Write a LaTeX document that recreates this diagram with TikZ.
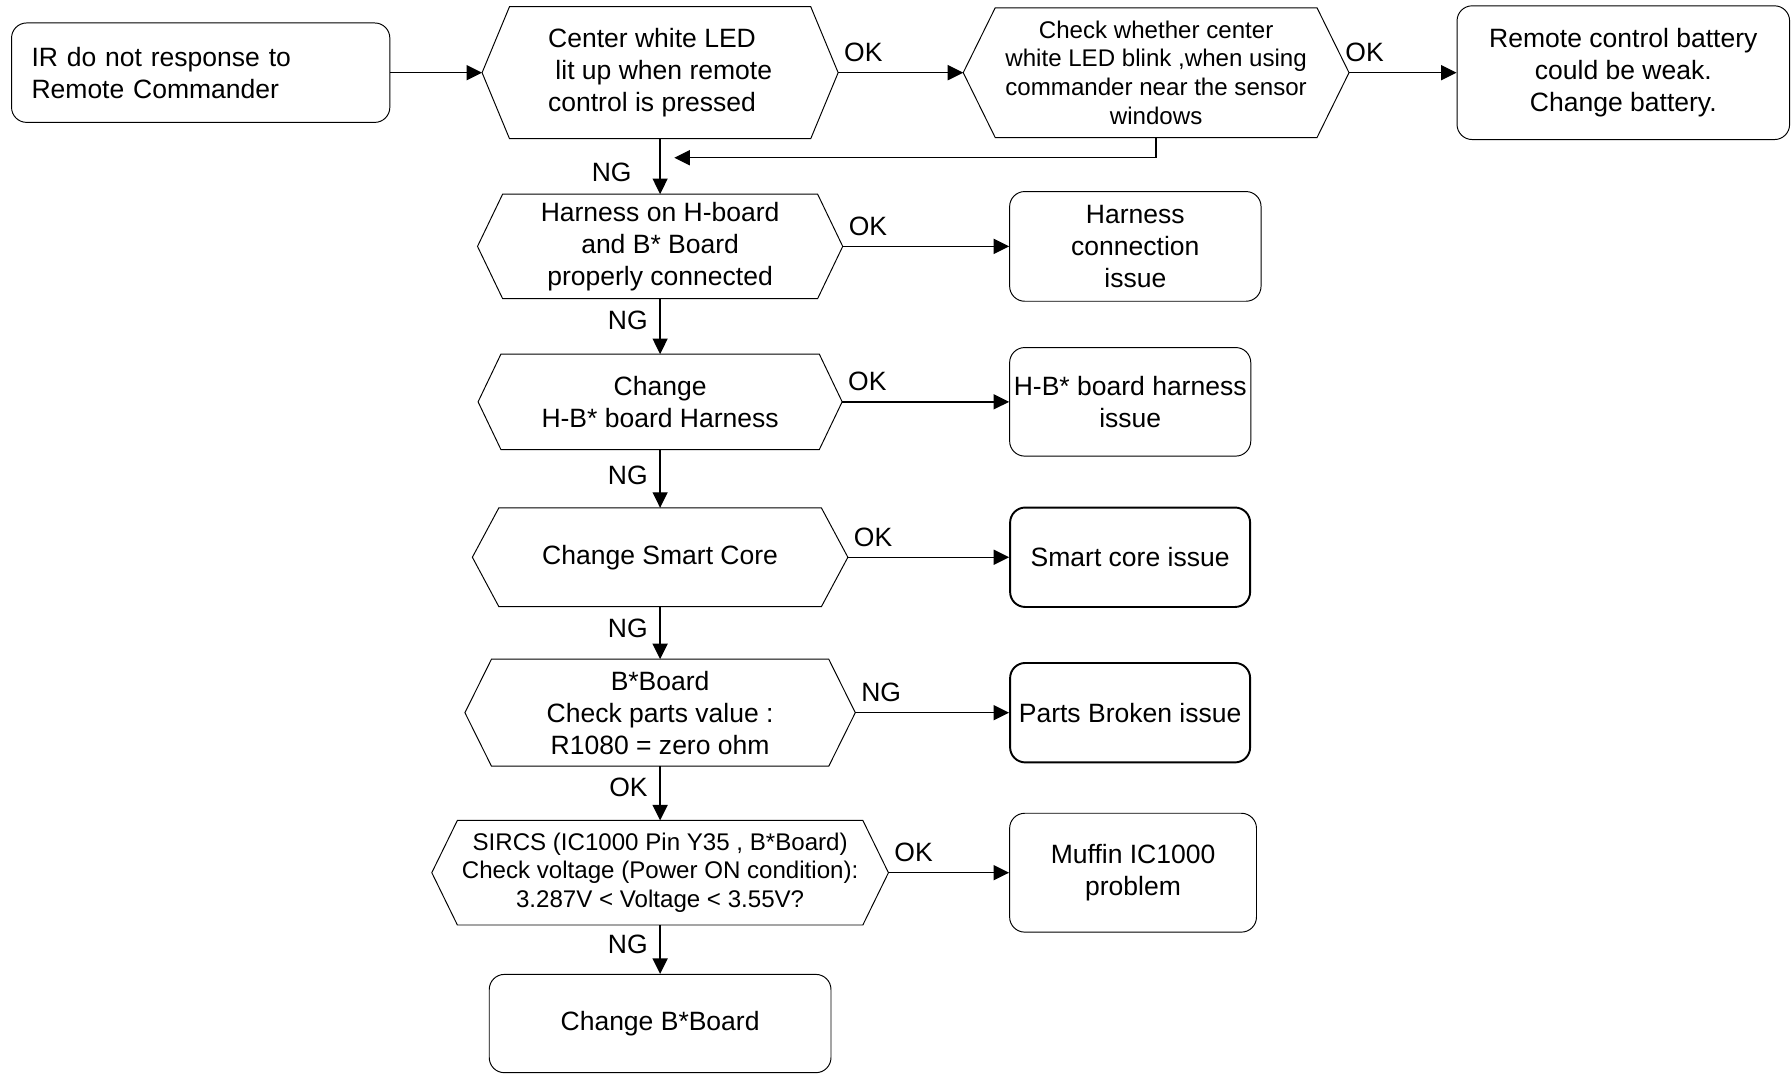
\documentclass[tikz,border=0pt]{standalone}
\usepackage{fontspec}
\setmainfont{Liberation Sans}
\usetikzlibrary{arrows.meta}

\begin{document}
\begin{tikzpicture}[
  node distance=3.4cm,
  font=\fontsize{16.5}{20}\selectfont,
  box/.style={draw, line width=0.6pt, rounded corners=0.33cm, align=center, inner sep=2pt},
  heavy/.style={line width=1.2pt},
  hexa/.style={align=center, inner sep=2pt},
  small/.style={font=\fontsize{15}{17.8}\selectfont},
  arrow/.style={-{Triangle[length=0.34cm, width=0.33cm]}, line width=0.85pt},
  sidelbl/.style={above right, pos=0, yshift=3pt},
  downlbl/.style={left=4pt}
]
\useasboundingbox (0,0) rectangle (39.2,-23.475);

% top row
\node[box, align=left, text width=7.4cm, minimum width=8.275cm, minimum height=2.175cm] (start) at (4.39,-1.59) {IR do not response to\\Remote Commander};
\node[hexa, align=left, minimum width=7.775cm, minimum height=2.875cm] (led) at (14.44,-1.59) {Center white LED\\\ lit up when remote\\control is pressed};
\node[hexa, small, minimum width=8.425cm, minimum height=2.825cm] (blink) at (25.29,-1.59) {Check whether center\\white LED blink ,when using\\commander near the sensor\\windows};
\node[box, minimum width=7.275cm, minimum height=2.925cm] (battery) at (35.51,-1.59) {Remote control battery\\could be weak.\\Change battery.};

% main column
\node[hexa, below of=led, node distance=3.8cm, minimum width=7.975cm, minimum height=2.275cm] (harness) {Harness on H-board\\and B* Board\\properly connected};
\node[hexa, below of=harness, minimum width=7.95cm, minimum height=2.075cm] (hbchange) {Change\\H-B* board Harness};
\node[hexa, below of=hbchange, minimum width=8.2cm, minimum height=2.15cm] (core) {Change Smart Core};
\node[hexa, below of=core, minimum width=8.525cm, minimum height=2.325cm] (parts) {B*Board\\Check parts value :\\R1080 = zero ohm};
\node[hexa, small, below of=parts, node distance=3.5cm, minimum width=9.975cm, minimum height=2.275cm] (sircs) {SIRCS (IC1000 Pin Y35 , B*Board)\\Check voltage (Power ON condition):\\3.287V < Voltage < 3.55V?};
\node[box, below of=sircs, node distance=3.3cm, minimum width=7.475cm, minimum height=2.15cm] (bboard) {Change B*Board};

% hexagon outlines
\foreach \n/\d in {led/0.6, blink/0.7, harness/0.55, hbchange/0.5, core/0.58, parts/0.58, sircs/0.56}
  \draw[line width=0.6pt] ([xshift=\d cm]\n.north west) -- ([xshift=-\d cm]\n.north east) -- (\n.east)
    -- ([xshift=-\d cm]\n.south east) -- ([xshift=\d cm]\n.south west) -- (\n.west) -- cycle;

% result boxes
\coordinate (col) at (22.075,0);
\node[box, anchor=west, minimum width=5.5cm, minimum height=2.4cm] (connissue) at (harness -| col) {Harness\\connection\\issue};
\node[box, anchor=west, minimum width=5.275cm, minimum height=2.375cm] (hbissue) at (hbchange -| col) {H-B* board harness\\issue};
\node[box, heavy, anchor=west, minimum width=5.25cm, minimum height=2.175cm] (coreissue) at (core -| col) {Smart core issue};
\node[box, heavy, anchor=west, minimum width=5.25cm, minimum height=2.175cm] (broken) at (parts -| col) {Parts Broken issue};
\node[box, anchor=west, minimum width=5.4cm, minimum height=2.6cm] (muffin) at (sircs -| col) {Muffin IC1000\\problem};

\coordinate (backin) at (14.75,-3.45);

\draw[arrow] (start) -- (led);
\draw[arrow] (led) -- node[sidelbl] {OK} (blink);
\draw[arrow] (blink) -- node[sidelbl, xshift=-6pt] {OK} (battery);
\draw[arrow] (blink.south) |- (backin);
\draw[arrow] (led) -- node[left=14pt, pos=0.6] {NG} (harness);
\draw[arrow] (harness) -- node[sidelbl] {OK} (connissue);
\draw[arrow] (harness) -- node[downlbl, pos=0.4] {NG} (hbchange);
\draw[arrow] (hbchange) -- node[sidelbl] {OK} (hbissue);
\draw[arrow] (hbchange) -- node[downlbl, pos=0.45] {NG} (core);
\draw[arrow] (core) -- node[sidelbl] {OK} (coreissue);
\draw[arrow] (core) -- node[downlbl, pos=0.42] {NG} (parts);
\draw[arrow] (parts) -- node[sidelbl] {NG} (broken);
\draw[arrow] (parts) -- node[downlbl, pos=0.4] {OK} (sircs);
\draw[arrow] (sircs) -- node[sidelbl] {OK} (muffin);
\draw[arrow] (sircs) -- node[downlbl, pos=0.4] {NG} (bboard);
\end{tikzpicture}
\end{document}
